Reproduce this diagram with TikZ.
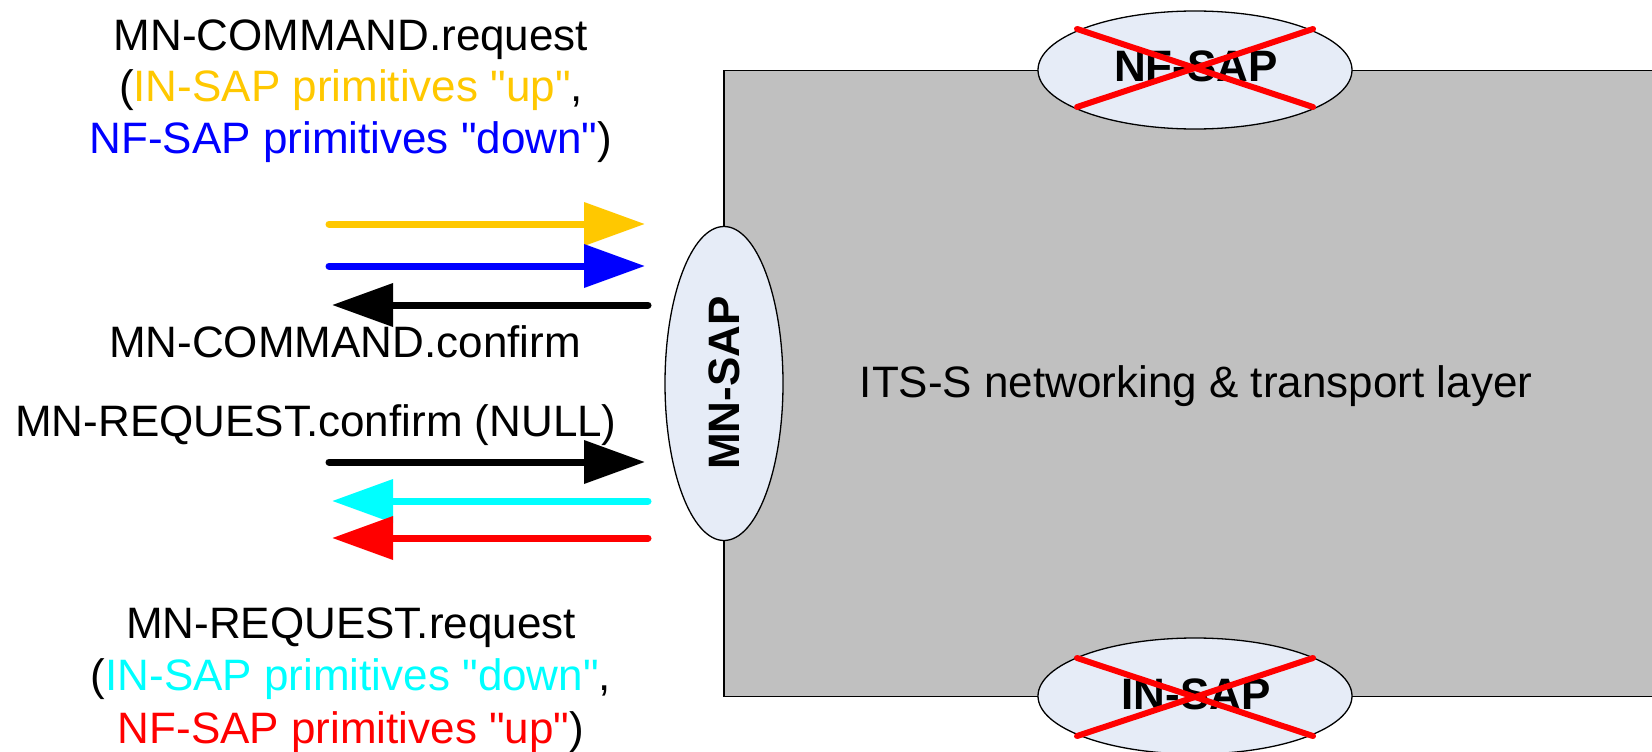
\documentclass[tikz,border=0pt]{standalone}
\usepackage{fontspec}
\setmainfont{Liberation Sans}[Ligatures=TeXOff]
\usetikzlibrary{arrows.meta,shapes.geometric}
\definecolor{cyellow}{RGB}{255,200,0}
\definecolor{cblue}{RGB}{0,0,255}
\definecolor{ccyan}{RGB}{0,255,255}
\definecolor{cred}{RGB}{255,0,0}
\definecolor{layergray}{RGB}{192,192,192}
\definecolor{sapfill}{RGB}{230,236,247}
\tikzset{
  lbl/.style={font=\fontsize{44}{51}\selectfont, inner sep=0pt, anchor=base},
  sap/.style={ellipse, draw=black, line width=1.3pt, fill=sapfill, inner sep=0pt},
  saptxt/.style={font=\fontsize{44}{51}\selectfont\bfseries, inner sep=0pt},
  prim/.style={line width=7pt, line cap=round, -{Triangle[length=61pt,width=42pt]}},
  cross/.style={cred, line width=6pt, line cap=round},
}
\begin{document}
\begin{tikzpicture}[x=1pt,y=-1pt]
\clip (0,0) rectangle (1652,752);
\fill[white] (0,0) rectangle (1652,752);
% layer
\draw[fill=layergray, line width=1.3pt] (1700,70.6) -- (724,70.6) -- (724,696.4) -- (1700,696.4);
\node[lbl] (layer) at (1196,397) {ITS-S networking \& transport layer};
% SAPs
\node[sap, minimum width=314pt, minimum height=118pt] (nf) at (1195,70) {};
\node[saptxt] (nftxt) at (1196,66) {NF-SAP};
\draw[cross] (1077,29) -- (1313,107);
\draw[cross] (1077,107) -- (1313,29);
\node[sap, minimum width=314pt, minimum height=116pt] (in) at (1195,696) {};
\node[saptxt] (intxt) at (1196,694) {IN-SAP};
\draw[cross] (1077,658) -- (1313,736);
\draw[cross] (1077,736) -- (1313,658);
\node[sap, minimum width=118pt, minimum height=314pt] (mn) at (724,383.5) {};
\node[saptxt, rotate=90] (mntxt) at (724,383) {MN-SAP};
% labels
\node[lbl] (t1) at (351,51) {MN-COMMAND.request};
\node[lbl] (t2) at (351,102) {(\textcolor{cyellow}{IN-SAP primitives "up"},};
\node[lbl] (t3) at (351,153) {\textcolor{cblue}{NF-SAP primitives "down"})};
\node[lbl] (t4) at (345,357) {MN-COMMAND.confirm};
\node[lbl] (t5) at (316,436) {MN-REQUEST.confirm (NULL)};
\node[lbl] (t6) at (351,638) {MN-REQUEST.request};
\node[lbl] (t7) at (351,690) {(\textcolor{ccyan}{IN-SAP primitives "down"},};
\node[lbl] (t8) at (351,743) {\textcolor{cred}{NF-SAP primitives "up"})};
% arrows
\coordinate (a1) at (329,224); \coordinate (b1) at (645,224);
\coordinate (a2) at (329,266); \coordinate (b2) at (645,266);
\coordinate (a3) at (648,305); \coordinate (b3) at (332,305);
\coordinate (a4) at (329,462); \coordinate (b4) at (645,462);
\coordinate (a5) at (648,501); \coordinate (b5) at (332,501);
\coordinate (a6) at (648,538); \coordinate (b6) at (332,538);
\draw[prim, cyellow] (a1) -- (b1);
\draw[prim, cblue] (a2) -- (b2);
\draw[prim, black] (a3) -- (b3);
\draw[prim, black] (a4) -- (b4);
\draw[prim, ccyan] (a5) -- (b5);
\draw[prim, cred] (a6) -- (b6);
\end{tikzpicture}
\end{document}
